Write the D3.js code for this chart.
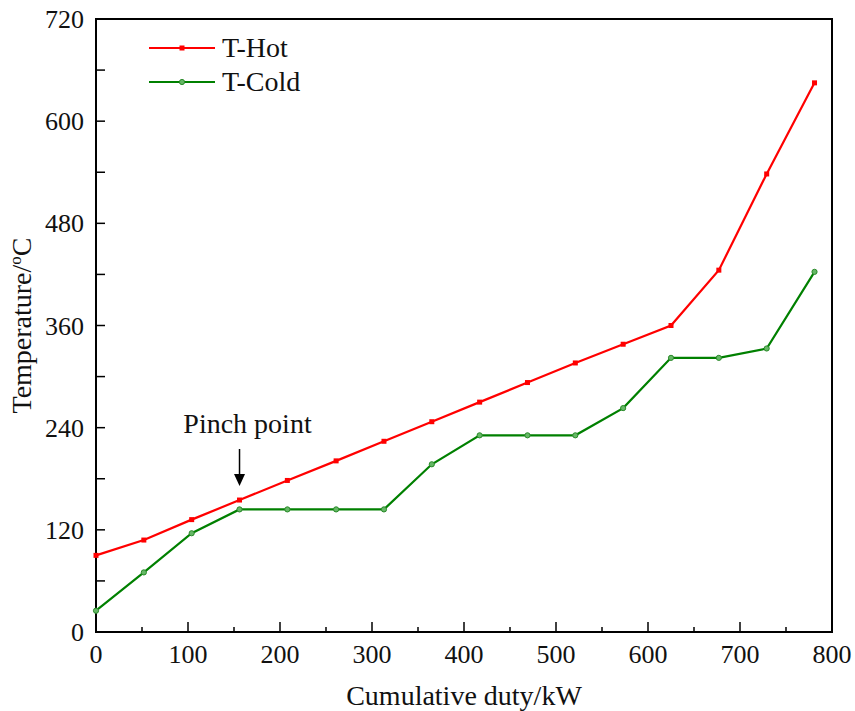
<!DOCTYPE html>
<html lang="en">
<head>
    <meta charset="UTF-8">
    <title>Composite curves</title>
    <script src="https://d3js.org/d3.v7.min.js"></script>
    <style>
        body {
            margin: 0;
            background-color: #fff;
        }
        text {
            font-family: "Liberation Serif", "Times New Roman", serif;
            fill: #111;
        }
        .tick-label { font-size: 26px; }
        .axis-title { font-size: 28px; }
        .legend-text { font-size: 28px; }
    </style>
</head>
<body>
    <div id="chart"></div>
    <script>
        // data
        const duty = [0, 52, 104, 156, 208, 261, 313, 365, 417, 469, 521, 573, 625, 677, 729, 781];
        const tHot = [90, 108, 132, 155, 178, 201, 224, 247, 270, 293, 316, 338, 360, 425, 538, 645];
        const tCold = [25, 70, 116, 144, 144, 144, 144, 197, 231, 231, 231, 263, 322, 322, 333, 423];
        const xTicks = [0, 100, 200, 300, 400, 500, 600, 700, 800];
        const yTicks = [0, 120, 240, 360, 480, 600, 720];
        const pinchDuty = 156;

        const margin = {top: 19, right: 23, bottom: 79, left: 96},
              width = 855 - margin.left - margin.right,
              height = 711 - margin.top - margin.bottom;

        const svg = d3.select("#chart").append("svg")
            .attr("width", 855)
            .attr("height", 711)
            .append("g")
            .attr("transform", `translate(${margin.left},${margin.top})`);

        const x = d3.scaleLinear().domain([0, 800]).range([0, width]);
        const y = d3.scaleLinear().domain([0, 720]).range([height, 0]);

        // frame
        svg.append("rect")
            .attr("width", width)
            .attr("height", height)
            .attr("fill", "none")
            .attr("stroke", "#000")
            .attr("stroke-width", 2);

        // ticks (inward)
        const xMinor = d3.range(50, 800, 100);
        svg.append("g").selectAll("line")
            .data(xTicks.slice(1, -1).concat(xMinor))
            .join("line")
            .attr("x1", d => x(d)).attr("x2", d => x(d))
            .attr("y1", height)
            .attr("y2", d => height - (d % 100 === 0 ? 10 : 5))
            .attr("stroke", "#000").attr("stroke-width", 1.5);

        const yAll = d3.range(60, 720, 60);
        svg.append("g").selectAll("line")
            .data(yAll)
            .join("line")
            .attr("x1", 0).attr("x2", 9)
            .attr("y1", d => y(d)).attr("y2", d => y(d))
            .attr("stroke", "#000").attr("stroke-width", 1.5);

        // tick labels
        svg.append("g").selectAll("text")
            .data(xTicks)
            .join("text")
            .attr("class", "tick-label")
            .attr("x", d => x(d))
            .attr("y", height + 31)
            .attr("text-anchor", "middle")
            .text(d => d);

        svg.append("g").selectAll("text")
            .data(yTicks)
            .join("text")
            .attr("class", "tick-label")
            .attr("x", -12)
            .attr("y", d => y(d))
            .attr("dy", "0.35em")
            .attr("text-anchor", "end")
            .text(d => d);

        // axis titles
        svg.append("text")
            .attr("class", "axis-title")
            .attr("x", width / 2)
            .attr("y", height + 73)
            .attr("text-anchor", "middle")
            .text("Cumulative duty/kW");

        const yTitle = svg.append("text")
            .attr("class", "axis-title")
            .attr("transform", `translate(-65,${height / 2}) rotate(-90)`)
            .attr("text-anchor", "middle");
        yTitle.append("tspan").text("Temperature/");
        yTitle.append("tspan").attr("font-size", "17px").attr("dy", "-10").text("o");
        yTitle.append("tspan").attr("dy", "10").text("C");

        // lines
        const hotData = duty.map((d, i) => ({x: d, y: tHot[i]}));
        const coldData = duty.map((d, i) => ({x: d, y: tCold[i]}));
        const line = d3.line().x(d => x(d.x)).y(d => y(d.y));

        svg.append("path")
            .datum(coldData)
            .attr("fill", "none")
            .attr("stroke", "#008000")
            .attr("stroke-width", 2.2)
            .attr("d", line);

        svg.append("path")
            .datum(hotData)
            .attr("fill", "none")
            .attr("stroke", "#ff0000")
            .attr("stroke-width", 2.2)
            .attr("d", line);

        svg.append("g").selectAll("circle")
            .data(coldData)
            .join("circle")
            .attr("cx", d => x(d.x))
            .attr("cy", d => y(d.y))
            .attr("r", 2.6)
            .attr("fill", "#66b866")
            .attr("stroke", "#2a8a2a")
            .attr("stroke-width", 1);

        svg.append("g").selectAll("rect")
            .data(hotData)
            .join("rect")
            .attr("x", d => x(d.x) - 2.5)
            .attr("y", d => y(d.y) - 2.5)
            .attr("width", 5)
            .attr("height", 5)
            .attr("fill", "#ff0000");

        // pinch point annotation
        const px = x(pinchDuty);
        svg.append("text")
            .attr("class", "axis-title")
            .attr("x", px + 8)
            .attr("y", 414)
            .attr("text-anchor", "middle")
            .text("Pinch point");

        svg.append("line")
            .attr("x1", px).attr("x2", px)
            .attr("y1", 430).attr("y2", 458)
            .attr("stroke", "#000").attr("stroke-width", 1.5);

        svg.append("path")
            .attr("d", `M${px - 5.5},${455} L${px + 5.5},${455} L${px},${467} Z`)
            .attr("fill", "#000");

        // legend
        const legend = svg.append("g").attr("transform", "translate(53,29)");
        const items = [
            {name: "T-Hot", color: "#ff0000", marker: "square"},
            {name: "T-Cold", color: "#008000", marker: "circle"}
        ];
        items.forEach((it, i) => {
            const g = legend.append("g").attr("transform", `translate(0,${i * 34})`);
            g.append("line")
                .attr("x1", 0).attr("x2", 66)
                .attr("stroke", it.color).attr("stroke-width", 2.2);
            if (it.marker === "square") {
                g.append("rect").attr("x", 30.5).attr("y", -2.5).attr("width", 5).attr("height", 5)
                    .attr("fill", it.color);
            } else {
                g.append("circle").attr("cx", 33).attr("r", 2.6)
                    .attr("fill", "#66b866").attr("stroke", "#2a8a2a");
            }
            g.append("text")
                .attr("class", "legend-text")
                .attr("x", 73)
                .attr("y", 9)
                .text(it.name);
        });
    </script>
</body>
</html>
